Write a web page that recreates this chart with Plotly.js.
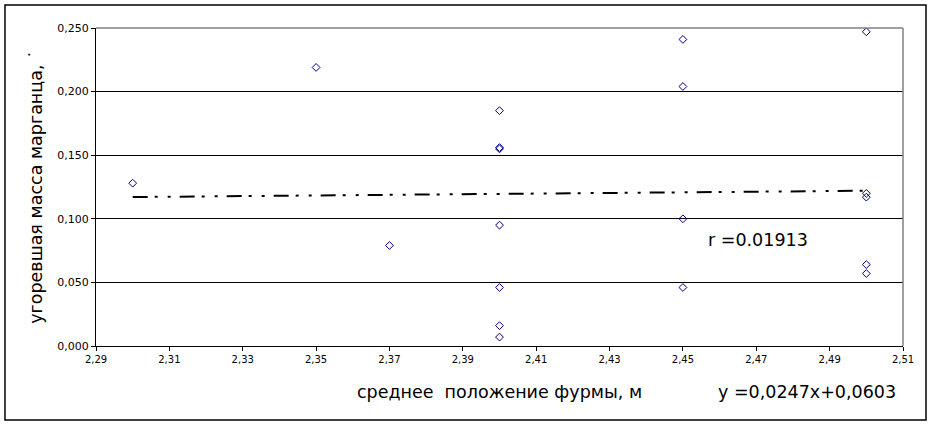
<!DOCTYPE html>
<html>
<head>
<meta charset="utf-8">
<script src="https://cdn.plot.ly/plotly-3.0.1.min.js"></script>
<style>
html,body{margin:0;padding:0;background:#fff;}
#chart{width:932px;height:425px;}
</style>
</head>
<body>
<div id="chart"></div>
<script>
// Tuyere average position, m
const tuyerePosition = [2.30, 2.35, 2.37, 2.40, 2.40, 2.40, 2.40, 2.40, 2.40, 2.40, 2.45, 2.45, 2.45, 2.45, 2.50, 2.50, 2.50, 2.50, 2.50];
// Burnt-off manganese mass
const burntManganese = [0.128, 0.219, 0.079, 0.185, 0.156, 0.155, 0.095, 0.046, 0.016, 0.007, 0.241, 0.204, 0.100, 0.046, 0.247, 0.120, 0.117, 0.064, 0.057];
// Trend line equation coefficients (as printed on chart)
const trendSlope = 0.0247;
const trendIntercept = 0.0603;
const corrLabel = "r =0.01913";
const eqLabel = "y =0,0247x+0,0603";
const xTickVals = [2.29, 2.31, 2.33, 2.35, 2.37, 2.39, 2.41, 2.43, 2.45, 2.47, 2.49, 2.51];
const yTickVals = [0, 0.05, 0.10, 0.15, 0.20, 0.25];

const xMin = Math.min(...tuyerePosition);
const xMax = Math.max(...tuyerePosition);
const trendX = [xMin, xMax];
const trendY = trendX.map(x => trendSlope * x + trendIntercept);

const font = "DejaVu Sans, Verdana, sans-serif";

const traces = [
  {
    x: trendX, y: trendY, type: 'scatter', mode: 'lines',
    line: {color: '#000000', width: 2, dash: '15px,7px,3px,10px,3px,9px'},
    hoverinfo: 'skip', showlegend: false
  },
  {
    x: tuyerePosition, y: burntManganese, type: 'scatter', mode: 'markers',
    marker: {symbol: 'diamond-open', size: 6, color: '#000080', line: {width: 1, color: '#000080'}},
    showlegend: false
  }
];

const layout = {
  width: 932, height: 425,
  margin: {l: 96, r: 29, t: 28, b: 79},
  paper_bgcolor: '#ffffff', plot_bgcolor: '#ffffff',
  font: {family: font, color: '#000'},
  separators: ', ',
  showlegend: false,
  xaxis: {
    range: [2.29, 2.51], tickvals: xTickVals, tickformat: '.2f',
    showgrid: false, zeroline: false,
    showline: true, linecolor: '#000', linewidth: 1,
    ticks: 'outside', ticklen: 4, tickcolor: '#000',
    tickfont: {size: 10, family: font},
    title: {text: 'среднее  положение фурмы, м', font: {size: 17.5, family: font}, standoff: 21}
  },
  yaxis: {
    range: [0, 0.25], tickvals: yTickVals, tickformat: '.3f',
    showgrid: true, gridcolor: '#000', gridwidth: 1,
    zeroline: false,
    showline: true, linecolor: '#000', linewidth: 1,
    ticks: 'outside', ticklen: 4, tickcolor: '#000',
    tickfont: {size: 11, family: font},
    title: {text: "угоревшая масса марганца, ˙", font: {size: 17.5, family: font}, standoff: 10}
  },
  shapes: [
    {type: 'line', xref: 'paper', yref: 'paper', x0: 0, x1: 1, y0: 1, y1: 1, line: {color: '#808080', width: 1.5}, layer: 'above'},
    {type: 'line', xref: 'paper', yref: 'paper', x0: 1, x1: 1, y0: 0, y1: 1, line: {color: '#808080', width: 1.5}, layer: 'above'},
    {type: 'rect', xref: 'paper', yref: 'paper', x0: -0.1128, x1: 1.0285, y0: -0.2327, y1: 1.0723, line: {color: '#000', width: 1.5}, fillcolor: 'rgba(0,0,0,0)', layer: 'above'}
  ],
  annotations: [
    {text: corrLabel, xref: 'paper', yref: 'paper', x: (758 - 96) / 807, y: (346 - 240) / 318, showarrow: false, font: {size: 17.5, family: font}, xanchor: 'center', yanchor: 'middle'},
    {text: eqLabel, xref: 'paper', yref: 'paper', x: (898 - 96) / 807, y: (346 - 392) / 318, showarrow: false, font: {size: 17.5, family: font}, xanchor: 'right', yanchor: 'middle'}
  ]
};

Plotly.newPlot('chart', traces, layout, {staticPlot: true, displayModeBar: false});
</script>
</body>
</html>
